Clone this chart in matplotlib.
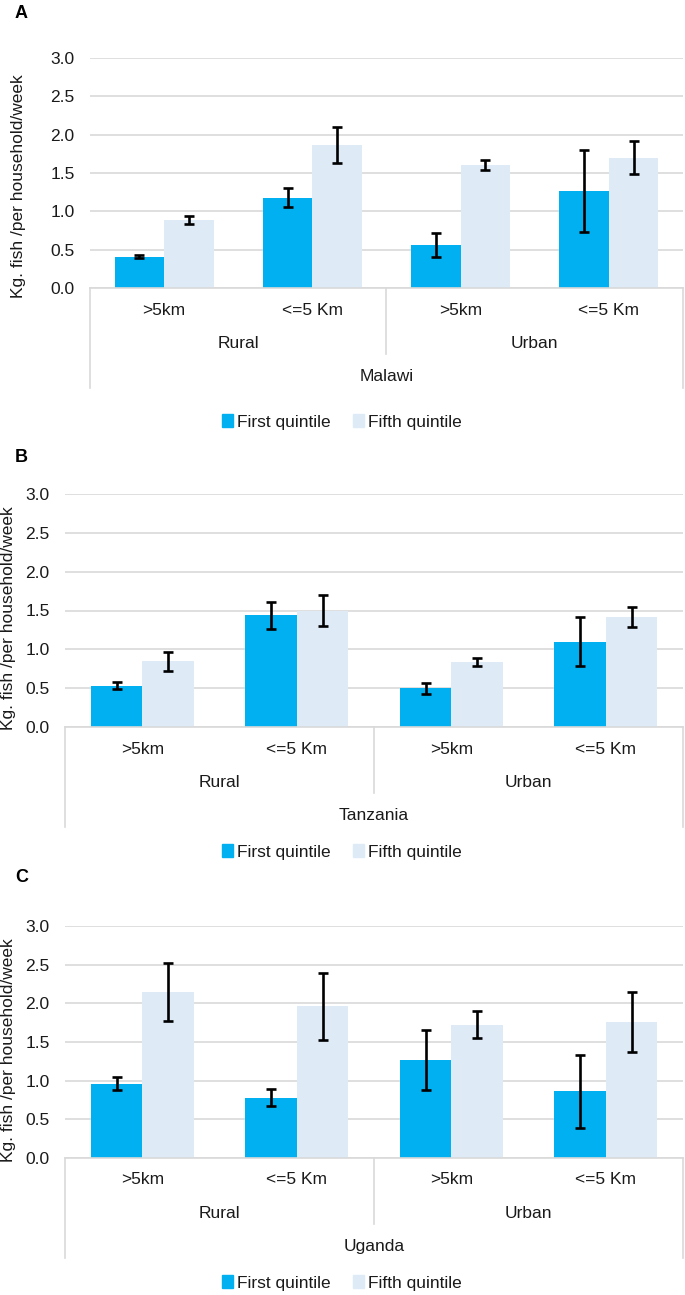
import numpy as np
import matplotlib
matplotlib.use("Agg")
from matplotlib import pyplot as plt
from matplotlib import transforms
from matplotlib.lines import Line2D
from matplotlib.patches import Patch

plt.rcParams['font.family'] = ['Liberation Sans', 'DejaVu Sans']

distance = [">5km", "<=5 Km", ">5km", "<=5 Km"]
area = ["Rural", "Urban"]
countries = ["Malawi", "Tanzania", "Uganda"]
panel_letters = ["A", "B", "C"]

# first quintile / fifth quintile means and error half-widths, per country
first_mean = [[0.41, 1.18, 0.56, 1.26],
              [0.53, 1.44, 0.50, 1.10],
              [0.96, 0.78, 1.27, 0.86]]
first_err = [[0.02, 0.12, 0.155, 0.535],
             [0.043, 0.175, 0.07, 0.315],
             [0.086, 0.112, 0.39, 0.473]]
fifth_mean = [[0.89, 1.865, 1.605, 1.70],
              [0.845, 1.495, 0.84, 1.42],
              [2.15, 1.96, 1.726, 1.76]]
fifth_err = [[0.055, 0.233, 0.068, 0.215],
             [0.12, 0.2, 0.054, 0.13],
             [0.377, 0.43, 0.18, 0.39]]

c_first = '#00B0F0'
c_fifth = '#DEEBF7'
grid_c = '#D9D9D9'
txt_c = '#1a1a1a'
fs = 12.5

W, H = 685, 1295
fig = plt.figure(figsize=(W / 100, H / 100), dpi=100)

# pixel boxes: left, right, top(3.0), bottom(0.0), ylabel x, ylabel center y, letter y, legend y
boxes = [(90, 683, 58, 288, 19, 186, 14, 422),
         (65, 683, 494, 727, 9, 618, 458, 852),
         (65, 683, 926, 1158, 9, 1050, 877, 1283)]

x = np.arange(4)
bw = 1 / 3

for k, (l, r, t, b, ylx, yly, ty, legy) in enumerate(boxes):
    ax = fig.add_axes([l / W, 1 - b / H, (r - l) / W, (b - t) / H])
    ax.bar(x - bw / 2, first_mean[k], bw, color=c_first, zorder=2)
    ax.bar(x + bw / 2, fifth_mean[k], bw, color=c_fifth, zorder=2)
    ax.errorbar(x - bw / 2, first_mean[k], yerr=first_err[k], fmt='none', ecolor='black',
                elinewidth=1.9, capsize=3.5, capthick=1.9, zorder=3)
    ax.errorbar(x + bw / 2, fifth_mean[k], yerr=fifth_err[k], fmt='none', ecolor='black',
                elinewidth=1.9, capsize=3.5, capthick=1.9, zorder=3)
    ax.set_xlim(-0.5, 3.5)
    ax.set_ylim(0, 3.0)
    yt = np.arange(0, 3.01, 0.5)
    ax.set_yticks(yt)
    ax.set_yticklabels([f"{v:.1f}" for v in yt], fontsize=fs, color=txt_c)
    ax.tick_params(axis='y', length=0, pad=11)
    ax.set_xticks([])
    ax.grid(axis='y', color=grid_c, lw=1.2, zorder=0)
    for s in ['top', 'right', 'left']:
        ax.spines[s].set_visible(False)
    ax.spines['bottom'].set_color(grid_c)
    ax.spines['bottom'].set_linewidth(1.2)
    ax.spines['bottom'].set_zorder(2.5)

    # multi-level category axis
    base = ax.get_xaxis_transform()
    def off(dy):
        return base + transforms.ScaledTranslation(0, -dy / 100, fig.dpi_scale_trans)
    for xi, lab in zip(x, distance):
        ax.text(xi, 0, lab, transform=off(22), ha='center', va='center', fontsize=fs, color=txt_c)
    for xi, lab in zip([0.5, 2.5], area):
        ax.text(xi, 0, lab, transform=off(55), ha='center', va='center', fontsize=fs, color=txt_c)
    ax.text(1.5, 0, countries[k], transform=off(88), ha='center', va='center', fontsize=fs, color=txt_c)
    for xv, dy in [(-0.5, 100), (1.5, 66), (3.5, 100)]:
        ax.add_line(Line2D([xv, xv], [0, -dy / (b - t)], color=grid_c, lw=1.2,
                           clip_on=False, transform=base))

    fig.text(ylx / W, 1 - yly / H, "Kg. fish /per household/week", rotation=90,
             ha='center', va='center', fontsize=fs, color=txt_c)
    fig.text(15 / W, 1 - ty / H, panel_letters[k], ha='left', va='center',
             fontsize=13, fontweight='bold')

    handles = [Patch(color=c_first, label="First quintile"),
               Patch(color=c_fifth, label="Fifth quintile")]
    fig.legend(handles=handles, loc='center', bbox_to_anchor=(342 / W, 1 - legy / H),
               ncol=2, frameon=False, fontsize=fs, handlelength=0.6, handleheight=0.7,
               handletextpad=0.25, columnspacing=1.3, borderpad=0, labelcolor=txt_c)

fig.savefig("out.png", dpi=100)
